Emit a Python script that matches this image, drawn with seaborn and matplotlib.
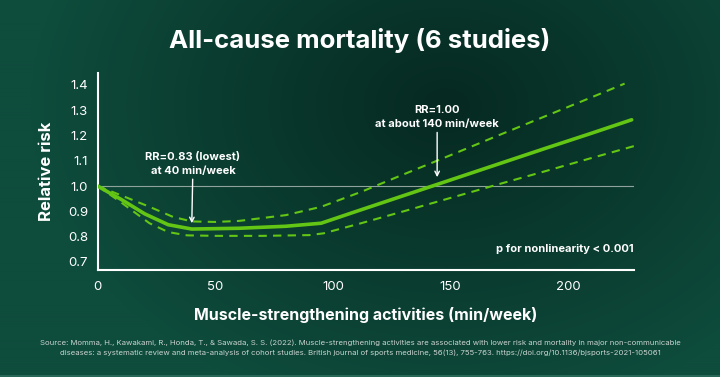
import numpy as np
import pandas as pd
import matplotlib.pyplot as plt
import seaborn as sns

# ---------- data ----------
main_min = [0, 5, 10, 20, 30, 40, 60, 80, 95, 110, 130, 150, 170, 190, 210, 227]
main_rr = [1.0, 0.973, 0.947, 0.89, 0.847, 0.83, 0.833, 0.841, 0.853, 0.9,
           0.962, 1.024, 1.086, 1.148, 1.209, 1.262]

upper_min = [0, 10, 22, 32, 40, 50, 60, 80, 95, 112, 130, 150, 170, 190, 210, 224]
upper_rr = [1.0, 0.963, 0.918, 0.878, 0.86, 0.858, 0.862, 0.885, 0.918, 0.977,
            1.046, 1.122, 1.199, 1.275, 1.351, 1.405]

lower_min = [0, 10, 22, 30, 38, 50, 70, 90, 96, 112, 130, 150, 170, 190, 210, 228]
lower_rr = [1.0, 0.935, 0.853, 0.818, 0.805, 0.803, 0.803, 0.806, 0.813, 0.853,
            0.9, 0.953, 1.006, 1.058, 1.111, 1.158]

y_ticks = [0.7, 0.8, 0.9, 1.0, 1.1, 1.2, 1.3, 1.4]
x_ticks = [0, 50, 100, 150, 200]

title = "All-cause mortality (6 studies)"
source = ("Source: Momma, H., Kawakami, R., Honda, T., & Sawada, S. S. (2022). Muscle-strengthening "
          "activities are associated with lower risk and mortality in major non-communicable\n"
          "diseases: a systematic review and meta-analysis of cohort studies. British journal of sports "
          "medicine, 56(13), 755-763. https://doi.org/10.1136/bjsports-2021-105061")

# ---------- style ----------
sns.set_style("white")
plt.rcParams['font.family'] = ['Inter', 'DejaVu Sans']
GREEN = '#63c514'
WHITE = '#ffffff'

fig = plt.figure(figsize=(7.2, 3.77), dpi=100)

# background gradient
bg = fig.add_axes([0, 0, 1, 1], zorder=0)
gx, gy = np.meshgrid(np.linspace(0, 1, 360), np.linspace(1, 0, 190))
d = np.sqrt(((gx - 0.62) * 1.3) ** 2 + ((gy - 0.72) * 0.9) ** 2)
t = np.clip(d / 0.75, 0, 1)
dark = np.array([6, 41, 33]) / 255
light = np.array([14, 76, 60]) / 255
img = dark + (light - dark) * t[..., None]
bg.imshow(img, aspect='auto', extent=[0, 1, 0, 1])
bg.axis('off')
fig.add_artist(plt.Line2D([0, 1], [0.002, 0.002], color='#2f6e5e', lw=1.2))

ax = fig.add_axes([0.1357, 0.2838, 0.7449, 0.5226], zorder=1)
ax.set_facecolor('none')

# ---------- curves ----------
sns.lineplot(x=main_min, y=main_rr, ax=ax, color=GREEN, lw=2.6, zorder=4)
sns.lineplot(x=upper_min, y=upper_rr, ax=ax, color=GREEN, lw=1.5, zorder=3)
ax.lines[-1].set_dashes((4, 3))
sns.lineplot(x=lower_min, y=lower_rr, ax=ax, color=GREEN, lw=1.5, zorder=3)
ax.lines[-1].set_dashes((4, 3))

ax.axhline(1.0, color='#8fa39c', lw=0.8, zorder=2)

ax.set_xlim(0, 228)
ax.set_ylim(0.668, 1.447)
ax.set_xticks(x_ticks)
ax.set_yticks(y_ticks)
ax.set_yticklabels([f"{v:.1f}" for v in y_ticks])

for s in ['top', 'right']:
    ax.spines[s].set_visible(False)
for s in ['left', 'bottom']:
    ax.spines[s].set_color(WHITE)
    ax.spines[s].set_linewidth(1.5)
ax.tick_params(axis='y', colors=WHITE, labelsize=9.5, length=3, width=1.2, pad=4)
ax.tick_params(axis='x', colors=WHITE, labelsize=9.5, length=0, pad=8)

ax.set_xlabel("Muscle-strengthening activities (min/week)", color=WHITE,
              fontsize=11.5, fontweight='bold', labelpad=10)
ax.set_ylabel("Relative risk", color=WHITE, fontsize=12, fontweight='bold', labelpad=10)

# ---------- annotations ----------
ax.annotate("RR=0.83 (lowest)\nat 40 min/week", xy=(40, 0.853), xytext=(40.5, 1.04),
            ha='center', va='bottom', color=WHITE, fontsize=8, fontweight='bold',
            linespacing=1.5,
            arrowprops=dict(arrowstyle='->', color=WHITE, lw=1, shrinkA=0, shrinkB=0))
ax.annotate("RR=1.00\nat about 140 min/week", xy=(144.3, 1.035), xytext=(144.3, 1.225),
            ha='center', va='bottom', color=WHITE, fontsize=8, fontweight='bold',
            linespacing=1.5,
            arrowprops=dict(arrowstyle='->', color=WHITE, lw=1, shrinkA=0, shrinkB=0))
ax.text(228, 0.75, "p for nonlinearity < 0.001", ha='right', va='center',
        color=WHITE, fontsize=8, fontweight='bold')

fig.text(0.5, 0.893, title, ha='center', va='center', color=WHITE,
         fontsize=18.5, fontweight='bold')
fig.text(0.5, 0.078, source, ha='center', va='center', color='#c9d3cf',
         fontsize=5.6, linespacing=1.6)

fig.savefig('out.png', dpi=100)
